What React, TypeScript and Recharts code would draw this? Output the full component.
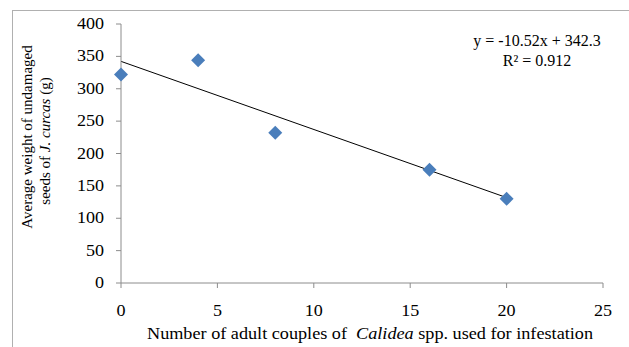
import React from "react";
import {
  ComposedChart,
  Scatter,
  XAxis,
  YAxis,
  ReferenceLine,
} from "recharts";

// couples of Calidea spp. vs average weight of undamaged seeds
const couples = [0, 4, 8, 16, 20];
const seedWeight = [322, 344, 232, 175, 130];

const xTicks = [0, 5, 10, 15, 20, 25];
const yTicks = [0, 50, 100, 150, 200, 250, 300, 350, 400];

// linear fit shown on the chart
const slope = -10.52;
const intercept = 342.3;
const rSquared = 0.912;
const fitRange = [0, 20];

const FONT = "Liberation Serif";
const STRETCH = 1.13; // the source picture is a bit wider than tall

const points = couples.map((x, i) => ({ x, y: seedWeight[i] }));

const Diamond = (props: any) => {
  const { cx, cy } = props;
  const r = 7;
  return (
    <polygon
      points={`${cx},${cy - r} ${cx + r},${cy} ${cx},${cy + r} ${cx - r},${cy}`}
      fill="#4a7ebb"
    />
  );
};

const txt = { fontFamily: FONT, fontSize: 16, fill: "#000" };

const XTick = (props: any) => {
  const { x, y, payload } = props;
  return (
    <g transform={`translate(${x},${y}) scale(${STRETCH},1)`}>
      <text x={0} y={24} textAnchor="middle" style={txt}>
        {payload.value}
      </text>
    </g>
  );
};

const YTick = (props: any) => {
  const { x, y, payload } = props;
  return (
    <g transform={`translate(${x},${y}) scale(${STRETCH},1)`}>
      <text x={0} y={5} textAnchor="end" style={txt}>
        {payload.value}
      </text>
    </g>
  );
};

const App = () => {
  return (
    <div
      style={{
        position: "absolute",
        left: 0,
        top: 0,
        width: 629,
        height: 347,
        background: "#fff",
        overflow: "hidden",
        fontFamily: FONT,
      }}
    >
      <div
        style={{
          position: "absolute",
          left: 12,
          top: 10,
          width: 640,
          height: 360,
          border: "1px solid #b0b0b0",
        }}
      />
      <ComposedChart
        width={629}
        height={347}
        margin={{ top: 24, right: 26, bottom: 0, left: 0 }}
        style={{ position: "absolute", left: 0, top: 0, fontFamily: FONT }}
      >
        <XAxis
          type="number"
          dataKey="x"
          domain={[0, 25]}
          ticks={xTicks}
          height={64}
          tick={<XTick />}
          tickSize={5}
          tickMargin={4}
          stroke="#8c8c8c"
        />
        <YAxis
          type="number"
          dataKey="y"
          domain={[0, 400]}
          ticks={yTicks}
          width={121}
          tick={<YTick />}
          tickSize={5}
          tickMargin={12}
          stroke="#8c8c8c"
        />
        <ReferenceLine
          segment={[
            { x: fitRange[0], y: intercept + slope * fitRange[0] },
            { x: fitRange[1], y: intercept + slope * fitRange[1] },
          ]}
          stroke="#000"
          strokeWidth={1}
          ifOverflow="visible"
        />
        <Scatter
          data={points}
          dataKey="y"
          shape={<Diamond />}
          isAnimationActive={false}
        />
        <text x={537} y={46} textAnchor="middle" style={txt}>
          {`y = ${slope}x + ${intercept}`}
        </text>
        <text x={537} y={66} textAnchor="middle" style={txt}>
          {`R² = ${rSquared}`}
        </text>
        <text
          x={370}
          y={339}
          textAnchor="middle"
          style={txt}
          textLength={446}
          lengthAdjust="spacingAndGlyphs"
        >
          Number of adult couples of{"\u00a0\u00a0"}
          <tspan fontStyle="italic">Calidea</tspan> spp. used for infestation
        </text>
        <text
          transform="translate(32,137) rotate(-90)"
          textAnchor="middle"
          style={{ ...txt, fontSize: 15 }}
        >
          Average weight of undamaged
        </text>
        <text
          transform="translate(50,141) rotate(-90)"
          textAnchor="middle"
          style={{ ...txt, fontSize: 15 }}
        >
          seeds of <tspan fontStyle="italic">J. curcas</tspan> (g)
        </text>
      </ComposedChart>
    </div>
  );
};

export default App;
